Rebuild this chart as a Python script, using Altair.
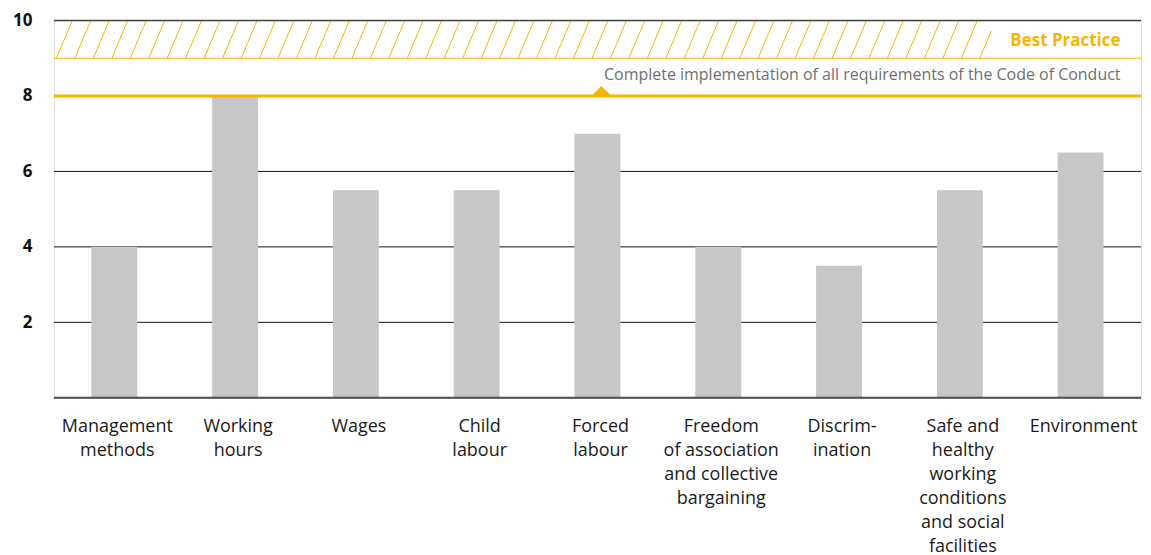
import altair as alt
import numpy as np
import pandas as pd

# ---------------- data ----------------
categories = [
    "Management\nmethods",
    "Working\nhours",
    "Wages",
    "Child\nlabour",
    "Forced\nlabour",
    "Freedom\nof association\nand collective\nbargaining",
    "Discrim-\nination",
    "Safe and\nhealthy\nworking\nconditions\nand social\nfacilities",
    "Environment",
]
scores = [4, 8, 5.5, 5.5, 7, 4, 3.5, 5.5, 6.5]
y_ticks = [2, 4, 6, 8, 10]
grid_values = [2, 4, 6]
target_value = 8
best_low, best_high = 9, 10
best_label = "Best Practice"
target_label = "Complete implementation of all requirements of the Code of Conduct"

# ---------------- style ----------------
W, H = 1089, 378
YELLOW = "#F7B500"
BAR = "#C6C7C6"
FONT = "Open Sans"

df = pd.DataFrame({"cat": categories, "score": scores})

yscale = alt.Scale(domain=[0, 10], nice=False, zero=True)
xscale = alt.Scale(domain=categories, paddingInner=0.62, paddingOuter=0.31)
y_axis = alt.Axis(
    values=y_ticks, ticks=False, domain=False, grid=False, title=None,
    labelPadding=22, labelFont=FONT, labelFontSize=17,
    labelFontWeight="bold", labelColor="#111111",
)


def Y(field):
    return alt.Y(field, scale=yscale, axis=y_axis, title=None)


# hatch pattern (decoration) in a pixel-unit x space
hatch_step, hatch_dx, hatch_end = 18.5, 16.0, 939.0
rows = []
for b in np.arange(-hatch_dx, hatch_end, hatch_step):
    t0 = max(0.0, (0 - b) / hatch_dx)
    t1 = min(1.0, (hatch_end - b) / hatch_dx)
    if t1 <= t0:
        continue
    rows.append({
        "x": b + hatch_dx * t0, "x2": b + hatch_dx * t1,
        "y": best_low + (best_high - best_low) * t0,
        "y2": best_low + (best_high - best_low) * t1,
    })
hatch_df = pd.DataFrame(rows)

hatch = alt.Chart(hatch_df).mark_rule(color=YELLOW, strokeWidth=1).encode(
    x=alt.X("x:Q", scale=alt.Scale(domain=[0, W], nice=False, zero=False), axis=None),
    x2="x2:Q",
    y=Y("y:Q"),
    y2="y2:Q",
)

grid = alt.Chart(pd.DataFrame({"v": grid_values})).mark_rule(color="#111111", strokeWidth=1).encode(
    y=Y("v:Q")
)

bars = alt.Chart(df).mark_bar(color=BAR).encode(
    x=alt.X(
        "cat:N", sort=categories, scale=xscale, title=None,
        axis=alt.Axis(
            labelAngle=0, ticks=False, domain=False, labelPadding=20,
            labelExpr="split(datum.label, '\\n')", labelLimit=0,
            labelOverlap=False, labelFont=FONT, labelFontSize=18,
            labelColor="#1a1a1a", labelLineHeight=24, labelAlign="center",
            labelOffset=3,
        ),
    ),
    y=Y("score:Q"),
)

zero_rule = alt.Chart(pd.DataFrame({"v": [0]})).mark_rule(color="#4d4d4d", strokeWidth=2).encode(y=Y("v:Q"))
top_rule = alt.Chart(pd.DataFrame({"v": [best_high]})).mark_rule(color="#444444", strokeWidth=1.5).encode(y=Y("v:Q"))
low_rule = alt.Chart(pd.DataFrame({"v": [best_low]})).mark_rule(color=YELLOW, strokeWidth=1).encode(y=Y("v:Q"))
target_rule = alt.Chart(pd.DataFrame({"v": [target_value]})).mark_rule(color=YELLOW, strokeWidth=3).encode(y=Y("v:Q"))

triangle = alt.Chart(pd.DataFrame({"cat": [categories[4]], "v": [target_value]})).mark_point(
    shape="M-1,0L1,0L0,-1Z", filled=True, size=324, color=YELLOW, opacity=1, yOffset=-1, xOffset=4
).encode(
    x=alt.X("cat:N", sort=categories, scale=xscale),
    y=Y("v:Q"),
)

best_text = alt.Chart(pd.DataFrame({"cat": [categories[-1]], "v": [9.45], "t": [best_label]})).mark_text(
    align="right", baseline="middle", dx=40, font=FONT, fontSize=17, fontWeight="bold", color=YELLOW
).encode(
    x=alt.X("cat:N", sort=categories, scale=xscale),
    y=Y("v:Q"),
    text="t:N",
)

target_text = alt.Chart(pd.DataFrame({"cat": [categories[-1]], "v": [8.545], "t": [target_label]})).mark_text(
    align="right", baseline="middle", dx=40, font=FONT, fontSize=16, color="#6f6f6f"
).encode(
    x=alt.X("cat:N", sort=categories, scale=xscale),
    y=Y("v:Q"),
    text="t:N",
)

inner = alt.layer(grid, bars, zero_rule, top_rule, low_rule, target_rule, triangle, best_text, target_text)

chart = alt.layer(hatch, inner).resolve_scale(x="independent").properties(
    width=W, height=H,
    autosize=alt.AutoSizeParams(type="none"),
    padding={"left": 46, "top": 12, "right": 2, "bottom": 160},
).configure_view(stroke=None).configure(background="white")

chart.save("out.html", embed_options={"renderer": "svg", "actions": False})
